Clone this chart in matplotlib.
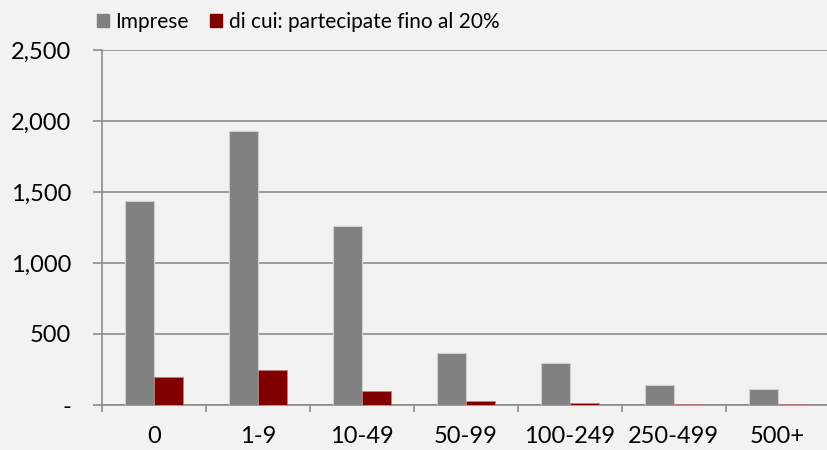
import numpy as np
import matplotlib.pyplot as plt
from matplotlib.patches import Patch
from matplotlib.ticker import FuncFormatter

# data
categories = ['0', '1-9', '10-49', '50-99', '100-249', '250-499', '500+']
imprese = [1437, 1929, 1262, 366, 296, 139, 110]
partecipate = [200, 246, 99, 26, 12, 5, 5]

bg = '#F2F2F2'
grey = '#808080'
red = '#800000'
line_col = '#8C8C8C'
fs = 15
tick_fs = 17

plt.rcParams['font.family'] = ['Lato', 'DejaVu Sans']

fig = plt.figure(figsize=(8.27, 4.5), dpi=100, facecolor=bg)
ax = fig.add_axes([102.3 / 827, 0.1, 727.3 / 827, 355 / 450], facecolor=bg)

x = np.arange(len(categories))
w = 0.28
ax.bar(x - w / 2, imprese, w, color=grey, edgecolor='#D0D0D0', linewidth=0.8, zorder=3)
ax.bar(x + w / 2, partecipate, w, color=red, edgecolor='#C08080', linewidth=0.6, zorder=3)

ax.set_xlim(-0.5, len(categories) - 0.5)
ax.set_ylim(0, 2500)
ax.set_yticks([0, 500, 1000, 1500, 2000, 2500])
ax.yaxis.set_major_formatter(FuncFormatter(lambda v, p: '-' if v == 0 else f'{int(v):,}'))
ax.grid(axis='y', color=line_col, linewidth=1.2, zorder=0)

# category labels centred, tick marks on the boundaries
ax.set_xticks(x)
ax.set_xticklabels(categories)
ax.tick_params(axis='x', which='major', length=0, pad=15, labelsize=tick_fs, colors='black')
ax.set_xticks(np.arange(-0.5, len(categories), 1.0), minor=True)
ax.tick_params(axis='x', which='minor', length=5, width=1.2, color=line_col)
ax.tick_params(axis='y', length=6.5, width=1.2, color=line_col, labelsize=tick_fs, pad=16)

for s in ['top', 'right']:
    ax.spines[s].set_visible(False)
for s in ['left', 'bottom']:
    ax.spines[s].set_color(line_col)
    ax.spines[s].set_linewidth(1.2)

handles = [Patch(facecolor=grey, edgecolor=grey), Patch(facecolor=red, edgecolor=red)]
fig.legend(handles, ['Imprese', 'di cui: partecipate fino al 20%'], loc='center',
           bbox_to_anchor=(298 / 827, 1 - 22 / 450), ncol=2, frameon=False,
           fontsize=fs, handlelength=0.6, handleheight=0.6, handletextpad=0.3,
           columnspacing=1.0)

fig.savefig('out.png', dpi=100, facecolor=bg)
